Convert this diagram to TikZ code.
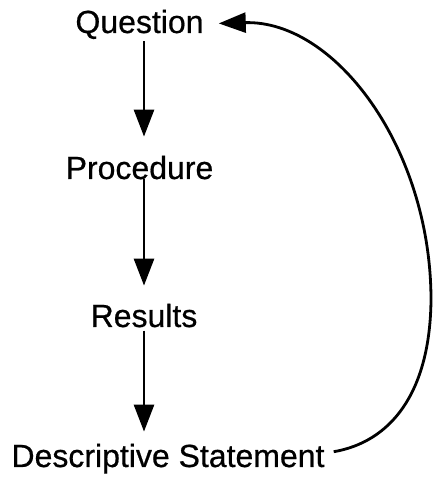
\documentclass[tikz,border=0pt]{standalone}
\usepackage{fontspec}
\setmainfont{Liberation Sans}
\newfontfamily\labelfont[FakeBold=0.6]{Liberation Sans}
\usetikzlibrary{arrows.meta}

\tikzset{
  stage/.style={inner sep=0pt, anchor=base, font=\labelfont\fontsize{32}{38}\selectfont},
  flow/.style={line width=2.8pt, -{Triangle[length=27pt,width=20pt]}},
}

\begin{document}
\begin{tikzpicture}[x=1pt,y=1pt]
  \useasboundingbox (0,0) rectangle (433,478);
  \node[stage] (q) at (139.5,445) {Question};
  \node[stage] (p) at (139.5,299) {Procedure};
  \node[stage] (r) at (144,151) {Results};
  \node[stage] (d) at (168,11) {Descriptive Statement};
  \coordinate (bend) at (431,178);
  \draw[flow,shorten <=2pt,shorten >=19pt] (q.south -| r.north) -- (p.north -| r.north);
  \draw[flow,shorten <=-1pt,shorten >=18pt] (p.south -| r.north) -- (r.north);
  \draw[flow,shorten <=3pt,shorten >=12pt] (r.south) -- (d.north -| r.south);
  % loop back to the question
  \draw[flow] ([shift={(9,7)}]d.east) .. controls (390,36) and (430,84) .. (bend)
    .. controls (431,330) and (335,458) .. ([shift={(15,1)}]q.east);
\end{tikzpicture}
\end{document}
